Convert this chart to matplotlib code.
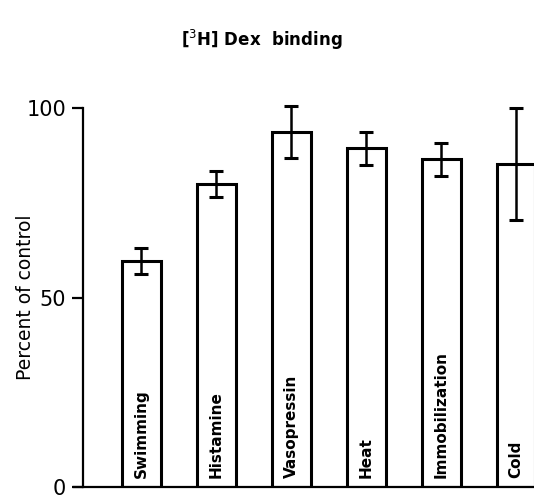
import numpy as np
import matplotlib
matplotlib.use("Agg")
import matplotlib.pyplot as plt

# values (percent of control)
treatments = ["Swimming", "Histamine", "Vasopressin", "Heat", "Immobilization", "Cold"]
percent = [59.6, 79.9, 93.7, 89.4, 86.5, 85.2]
sem = [3.4, 3.4, 6.9, 4.4, 4.4, 14.8]

plt.rcParams['font.family'] = ['DejaVu Sans']

fig = plt.figure(figsize=(5.34, 4.98), dpi=100)
ax = fig.add_axes([0.1554, 0.0221, 0.8446, 0.761])

x = np.arange(len(treatments))
ax.bar(x, percent, width=0.52, color="white", edgecolor="black", linewidth=2.2, zorder=2)
eb = ax.errorbar(x, percent, yerr=sem, fmt="none", ecolor="black", elinewidth=1.8,
                 capsize=5, capthick=2.2, zorder=3)
for art in eb.lines[1] + eb.lines[2]:
    art.set_clip_on(False)

for i, name in enumerate(treatments):
    ax.text(x[i], 2.5, name, rotation=90, ha="center", va="bottom",
            fontsize=11, fontweight="bold", color="black", zorder=3)

ax.set_xlim(-0.78, 5.24)
ax.set_ylim(0, 100)
ax.set_yticks([0, 50, 100])
ax.set_xticks([])
ax.tick_params(axis="y", direction="out", length=8, width=1.6, labelsize=15, pad=4)
ax.spines["top"].set_visible(False)
ax.spines["right"].set_visible(False)
ax.spines["left"].set_linewidth(1.6)
ax.spines["bottom"].set_linewidth(1.6)
ax.spines["bottom"].set_bounds(-0.9, 5.24)
ax.spines["bottom"].set_clip_on(False)

ax.set_ylabel("Percent of control", fontsize=13.5)
ax.yaxis.set_label_coords(-0.106, 0.5)
fig.text(0.49, 0.92, r"[$^3$H] Dex  binding", ha="center", va="center",
         fontsize=12, fontweight="bold")

fig.savefig("out.png", dpi=100)
